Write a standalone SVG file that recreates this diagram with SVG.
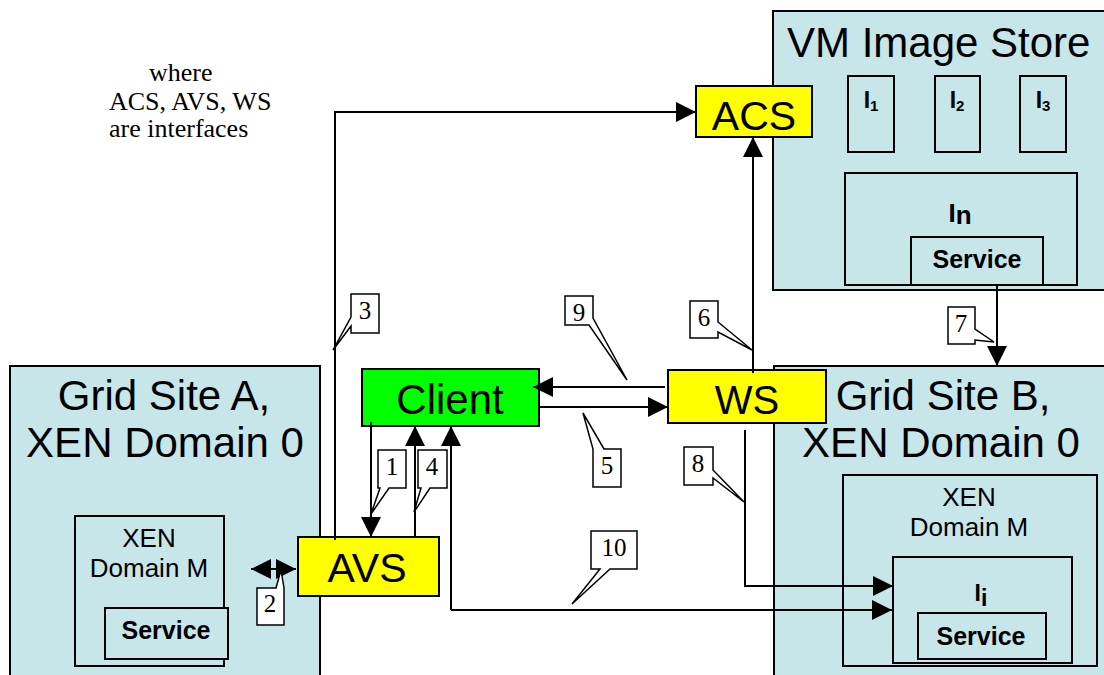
<svg xmlns="http://www.w3.org/2000/svg" width="1104" height="675" viewBox="0 0 1104 675">
<style>
.box{fill:#c7e6e9;stroke:#000;stroke-width:2}
.yel{fill:#ffff00;stroke:#000;stroke-width:2}
.grn{fill:#00ff00;stroke:#000;stroke-width:2}
.big{font-family:"Liberation Sans",Arial,sans-serif;font-size:42px;fill:#000}
.mid{font-family:"Liberation Sans",Arial,sans-serif;font-size:26px;fill:#000;text-anchor:middle}
.bold{font-family:"Liberation Sans",Arial,sans-serif;font-weight:bold;font-size:25px;fill:#000;text-anchor:middle}
.ser{font-family:"Liberation Serif","Times New Roman",serif;font-size:26px;fill:#000}
.num{font-family:"Liberation Serif","Times New Roman",serif;font-size:25px;fill:#000;text-anchor:middle}
.ln{fill:none;stroke:#000;stroke-width:2}
.arr{marker-end:url(#ah)}
.call{fill:#fff;stroke:#000;stroke-width:1.5;stroke-linejoin:miter}
</style>
<defs>
<marker id="ah" markerUnits="userSpaceOnUse" markerWidth="20" markerHeight="20" refX="20" refY="10" orient="auto-start-reverse" viewBox="0 0 20 20">
<path d="M0,0 L20,10 L0,20 z" fill="#000"/>
</marker>
</defs>

<rect width="1104" height="675" fill="#fff"/>

<text class="ser" x="149" y="81">where</text>
<text class="ser" x="109" y="110">ACS, AVS, WS</text>
<text class="ser" x="109" y="137">are interfaces</text>

<g id="vm-image-store">
<rect class="box" x="773" y="11" width="340" height="279"/>
<text class="big" x="787" y="57">VM Image Store</text>
</g>
<g id="i1">
<rect class="box" x="848" y="76" width="46" height="76"/>
<text class="bold" x="871" y="108" style="font-size:23px">I<tspan style="font-size:15px" dy="3">1</tspan></text>
</g>
<g id="i2">
<rect class="box" x="935" y="76" width="45" height="76"/>
<text class="bold" x="957" y="108" style="font-size:23px">I<tspan style="font-size:15px" dy="3">2</tspan></text>
</g>
<g id="i3">
<rect class="box" x="1020" y="76" width="46" height="76"/>
<text class="bold" x="1043" y="108" style="font-size:23px">I<tspan style="font-size:15px" dy="3">3</tspan></text>
</g>
<g id="in">
<rect class="box" x="845" y="173" width="232" height="112"/>
<text class="bold" x="960" y="222" style="font-size:26px">I<tspan dy="2">n</tspan></text>
<rect class="box" x="911" y="237" width="132" height="48"/>
<text class="bold" x="977" y="268">Service</text>
</g>

<g id="acs">
<rect class="yel" x="696" y="86" width="116" height="51"/>
<text class="big" x="754" y="130" text-anchor="middle" style="font-size:41px">ACS</text>
</g>

<g id="grid-site-a">
<rect class="box" x="10" y="366" width="310" height="320"/>
<text class="big" x="164" y="410" text-anchor="middle">Grid Site A,</text>
<text class="big" x="165" y="457" text-anchor="middle">XEN Domain 0</text>
</g>
<g id="domain-m-a">
<rect class="box" x="75" y="516" width="149" height="150"/>
<text class="mid" x="149" y="547">XEN</text>
<text class="mid" x="149" y="577">Domain M</text>
<rect class="box" x="105" y="608" width="123" height="51"/>
<text class="bold" x="166" y="639">Service</text>
</g>

<g id="grid-site-b">
<rect class="box" x="774" y="366" width="340" height="320"/>
<text class="big" x="943" y="410" text-anchor="middle">Grid Site B,</text>
<text class="big" x="941" y="457" text-anchor="middle">XEN Domain 0</text>
</g>
<g id="domain-m-b">
<rect class="box" x="843" y="475" width="254" height="191"/>
<text class="mid" x="969" y="506">XEN</text>
<text class="mid" x="969" y="536">Domain M</text>
</g>
<g id="ii">
<rect class="box" x="893" y="557" width="179" height="106"/>
<text class="bold" x="981" y="601" style="font-size:23px">I<tspan dy="5">i</tspan></text>
<rect class="box" x="918" y="613" width="128" height="46"/>
<text class="bold" x="981" y="645">Service</text>
</g>

<g id="client">
<rect class="grn" x="362" y="369" width="177" height="57"/>
<text class="big" x="450" y="414" text-anchor="middle">Client</text>
</g>

<g id="ws">
<rect class="yel" x="668" y="370" width="158" height="53"/>
<text class="big" x="747" y="414" text-anchor="middle" style="font-size:40px">WS</text>
</g>

<g id="avs">
<rect class="yel" x="298" y="537" width="141" height="59"/>
<text class="big" x="367" y="582" text-anchor="middle" style="font-size:41px">AVS</text>
</g>

<g id="connectors">
<path class="ln arr" d="M335,540 L335,112 L696,112"/>
<path class="ln arr" d="M371,422 L371,537"/>
<path class="ln arr" d="M415,537 L415,426"/>
<path class="ln arr" d="M540,407 L668,407"/>
<path class="ln arr" d="M665,387 L533,387"/>
<path class="ln arr" d="M753,373 L753,137"/>
<path class="ln arr" d="M997,285 L997,366"/>
<path class="ln arr" d="M745,430 L745,586 L893,586"/>
<path class="ln" d="M451,610 L451,426" style="marker-end:url(#ah)"/>
<path class="ln arr" d="M451,610 L892,610"/>
<path class="ln" d="M251,569 L296,569" style="marker-start:url(#ah);marker-end:url(#ah)"/>
</g>

<g id="callouts">
<polygon class="call" points="351,294 379,294 379,333 351,333 351,326 333,350 351,317"/>
<text class="num" x="365" y="319">3</text>
<polygon class="call" points="565,296 593,296 593,318 627,380 589,325 565,325"/>
<text class="num" x="579" y="321">9</text>
<polygon class="call" points="593,487 593,449 583,413 604,449 621,449 621,487"/>
<text class="num" x="607" y="474">5</text>
<polygon class="call" points="690,301 718,301 718,322 752,350 718,332 718,338 690,338"/>
<text class="num" x="704" y="326">6</text>
<polygon class="call" points="948,307 975,307 975,329 994,342 975,340 975,344 948,344"/>
<text class="num" x="961" y="332">7</text>
<polygon class="call" points="684,447 713,447 713,470 744,502 713,478 713,485 684,485"/>
<text class="num" x="698" y="472">8</text>
<polygon class="call" points="591,531 637,531 637,569 610,569 572,604 600,569 591,569"/>
<text class="num" x="614" y="556">10</text>
<polygon class="call" points="378,450 406,450 406,488 389,488 371,514 380,488 378,488"/>
<text class="num" x="392" y="475">1</text>
<polygon class="call" points="418,450 447,450 447,488 430,488 414,512 421,488 418,488"/>
<text class="num" x="432" y="475">4</text>
<polygon class="call" points="257,588 276,588 281,570 284,588 284,625 257,625"/>
<text class="num" x="270" y="612">2</text>
</g>
</svg>
